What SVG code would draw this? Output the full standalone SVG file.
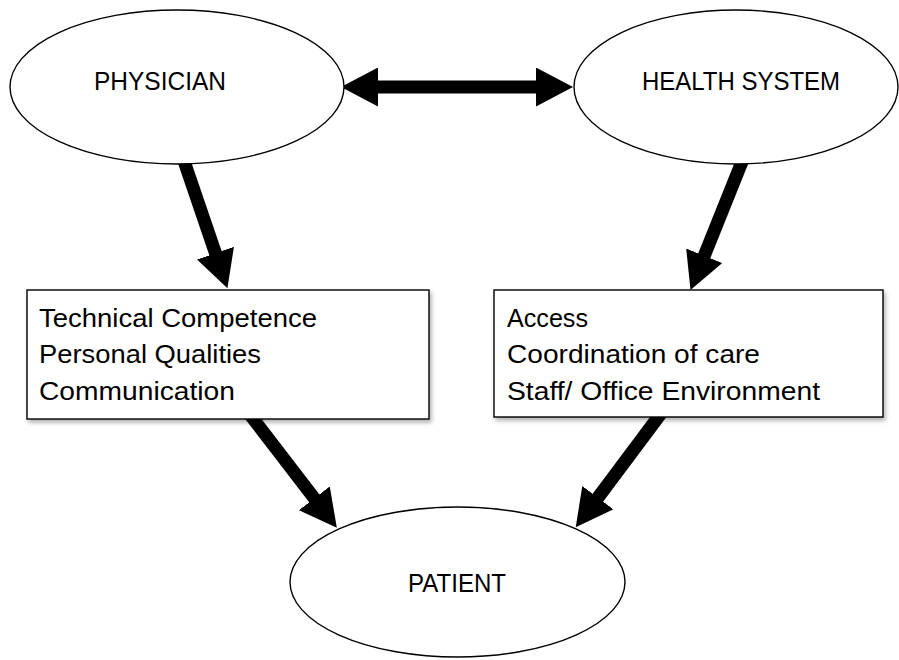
<svg xmlns="http://www.w3.org/2000/svg" width="899" height="660" viewBox="0 0 899 660">
<defs>
<style>
.node{fill:#fff;stroke:#000;stroke-width:1.4}
.lbl{font-family:"Liberation Sans",Arial,sans-serif;font-size:26px;fill:#000}
.conn{stroke:#000;stroke-width:13;fill:none;marker-end:url(#head)}
</style>
<marker id="head" markerUnits="userSpaceOnUse" viewBox="0 0 37 39" markerWidth="37" markerHeight="39" refX="1" refY="19.5" orient="auto-start-reverse">
<path d="M0,0 L37,19.5 L0,39 Z" fill="#000"/>
</marker>
<filter id="sh" x="-5%" y="-5%" width="115%" height="125%">
<feDropShadow dx="2" dy="3" stdDeviation="2" flood-color="#000" flood-opacity="0.3"/>
</filter>
</defs>
<rect width="899" height="660" fill="#fff"/>
<g id="connectors">
<line class="conn" x1="377" y1="87" x2="537" y2="87" marker-start="url(#head)"/>
<line class="conn" x1="183" y1="158" x2="215.8" y2="254.1"/>
<line class="conn" x1="743.5" y1="158" x2="703.9" y2="256.7"/>
<line class="conn" x1="248" y1="412" x2="314.9" y2="499.1"/>
<line class="conn" x1="662" y1="412" x2="597.3" y2="498.5"/>
</g>
<g id="physician">
<ellipse class="node" cx="177" cy="87" rx="167" ry="77"/>
<text class="lbl" x="94" y="90" textLength="132" lengthAdjust="spacingAndGlyphs">PHYSICIAN</text>
</g>
<g id="health-system">
<ellipse class="node" cx="736" cy="87" rx="162" ry="77"/>
<text class="lbl" x="642" y="90" textLength="198" lengthAdjust="spacingAndGlyphs">HEALTH SYSTEM</text>
</g>
<g id="physician-factors">
<rect class="node" x="27" y="290" width="402" height="129" filter="url(#sh)"/>
<text class="lbl" x="39" y="327" textLength="278" lengthAdjust="spacingAndGlyphs">Technical Competence</text>
<text class="lbl" x="39" y="363" textLength="222" lengthAdjust="spacingAndGlyphs">Personal Qualities</text>
<text class="lbl" x="39" y="400" textLength="196" lengthAdjust="spacingAndGlyphs">Communication</text>
</g>
<g id="system-factors">
<rect class="node" x="494" y="290" width="389" height="127" filter="url(#sh)"/>
<text class="lbl" x="507" y="327" textLength="81" lengthAdjust="spacingAndGlyphs">Access</text>
<text class="lbl" x="507" y="363" textLength="253" lengthAdjust="spacingAndGlyphs">Coordination of care</text>
<text class="lbl" x="507" y="400" textLength="313" lengthAdjust="spacingAndGlyphs">Staff/ Office Environment</text>
</g>
<g id="patient">
<ellipse class="node" cx="457.5" cy="582" rx="167.5" ry="75"/>
<text class="lbl" x="408" y="592" textLength="98" lengthAdjust="spacingAndGlyphs">PATIENT</text>
</g>
</svg>
